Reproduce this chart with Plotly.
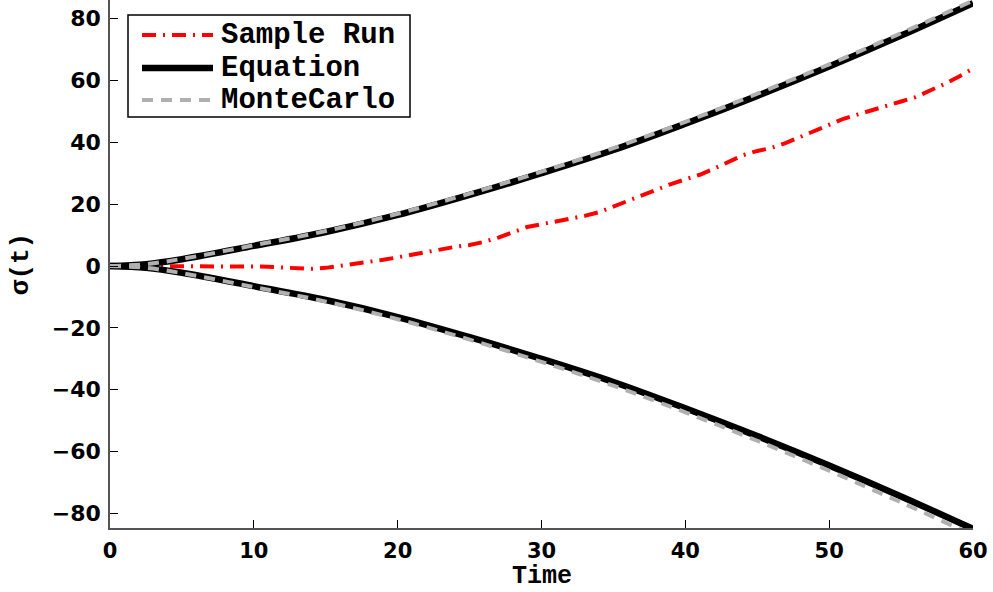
import plotly.graph_objects as go

# Time grid for the analytic / Monte Carlo envelopes
t_env = [0, 2.5, 5, 10, 15, 20, 25, 30, 35, 40, 45, 50, 55, 60]
eq_sigma = [0, 0.6, 2.2, 6.5, 11.0, 16.5, 23.0, 30.0, 37.5, 46.0, 55.0, 64.5, 74.5, 85.0]
mc_upper = [0, 0.6, 2.3, 6.7, 11.3, 16.9, 23.4, 30.5, 38.1, 46.6, 55.7, 65.2, 75.3, 85.8]
mc_lower = [0, -0.6, -2.3, -6.8, -11.5, -17.2, -23.8, -31.0, -38.7, -47.3, -56.5, -66.2, -76.4, -87.0]

# One simulated trajectory
t_run = list(range(0, 61))
sample_run = [0, 0, 0, 0, 0, 0, 0, 0.1, 0.1, 0, 0, -0.2, -0.5, -0.8, -0.9, -0.6,
              0, 0.6, 1.3, 2.0, 2.8, 3.7, 4.6, 5.6, 6.2, 6.8, 7.8, 9.2, 11.0, 12.6,
              13.5, 14.3, 15.2, 16.2, 17.4, 19.2, 21.2, 23.0, 24.8, 26.5, 28.0,
              29.5, 31.5, 33.6, 35.8, 37.2, 38.2, 39.8, 41.8, 43.8, 45.8, 47.6,
              49.0, 50.5, 52.0, 53.2, 54.6, 56.6, 58.8, 61.2, 63.8]

x_ticks = [0, 10, 20, 30, 40, 50, 60]
y_ticks = [-80, -60, -40, -20, 0, 20, 40, 60, 80]
legend_names = ["Sample Run", "Equation", "MonteCarlo"]

RED = "#ff0000"
BLACK = "#000000"
GRAY = "#b0b0b0"
RUN_DASH = "14px,7px,2px,7px"
MC_DASH = "11px,8px"

fig = go.Figure()

fig.add_trace(go.Scatter(x=t_run, y=sample_run, mode="lines",
                         line=dict(color=RED, width=4, dash=RUN_DASH),
                         showlegend=False))

eq_x = t_env + [None] + t_env
eq_y = eq_sigma + [None] + [-v for v in eq_sigma]
fig.add_trace(go.Scatter(x=eq_x, y=eq_y, mode="lines",
                         line=dict(color=BLACK, width=6.5, shape="spline"),
                         showlegend=False))

mc_x = t_env + [None] + t_env
mc_y = mc_upper + [None] + mc_lower
fig.add_trace(go.Scatter(x=mc_x, y=mc_y, mode="lines",
                         line=dict(color=GRAY, width=4, dash=MC_DASH, shape="spline"),
                         showlegend=False))

# Hand-drawn legend box (paper coordinates)
W, H = 863.0, 528.0
def px(xp):
    return (xp - 110) / W
def py(yp):
    return (528 - yp) / H

fig.add_shape(type="rect", xref="paper", yref="paper",
              x0=px(128), x1=px(410), y0=py(117), y1=py(15),
              line=dict(color=BLACK, width=1.5), fillcolor="white", layer="above")

legend_styles = [
    dict(color=RED, width=4, dash=RUN_DASH),
    dict(color=BLACK, width=6.5),
    dict(color=GRAY, width=4, dash=MC_DASH),
]
legend_y = [35, 68, 100]
for name, style, yy in zip(legend_names, legend_styles, legend_y):
    fig.add_shape(type="line", xref="paper", yref="paper",
                  x0=px(142), x1=px(213), y0=py(yy), y1=py(yy),
                  line=style, layer="above")
    fig.add_annotation(xref="paper", yref="paper", x=px(219), y=py(yy),
                       text=name, showarrow=False, xanchor="left", yanchor="middle",
                       font=dict(family="Liberation Mono", size=29, color=BLACK,
                                 weight="bold"))

# x-axis title, placed below the tick labels
fig.add_annotation(xref="paper", yref="paper", x=0.5, y=py(592),
                   text="Time", showarrow=False, xanchor="center", yanchor="bottom",
                   borderpad=0,
                   font=dict(family="Liberation Mono", size=25, color=BLACK, weight="bold"))

tick_font = dict(family="DejaVu Sans", size=21, color=BLACK, weight="bold")

fig.update_xaxes(range=[0, 60], tickvals=x_ticks, ticks="inside", ticklen=8,
                 tickcolor=BLACK, tickwidth=1, showline=True, linecolor="#555555",
                 linewidth=1.5, showgrid=False, zeroline=False, tickfont=tick_font,
                 ticklabelstandoff=3)
fig.update_yaxes(range=[-84.7, 86], tickvals=y_ticks, ticks="inside", ticklen=8,
                 tickcolor=BLACK, tickwidth=1, showline=True, linecolor="#555555",
                 linewidth=1.5, showgrid=False, zeroline=False,
                 tickfont=dict(family="DejaVu Sans", size=22, color=BLACK, weight="bold"),
                 ticklabelstandoff=3,
                 title=dict(text="σ(t)", font=dict(family="Liberation Mono", size=26,
                                                   color=BLACK, weight="bold"),
                            standoff=16))

fig.update_layout(width=993, height=592, plot_bgcolor="white", paper_bgcolor="white",
                  margin=dict(l=110, r=20, t=0, b=64))

fig.write_html("out.html")
